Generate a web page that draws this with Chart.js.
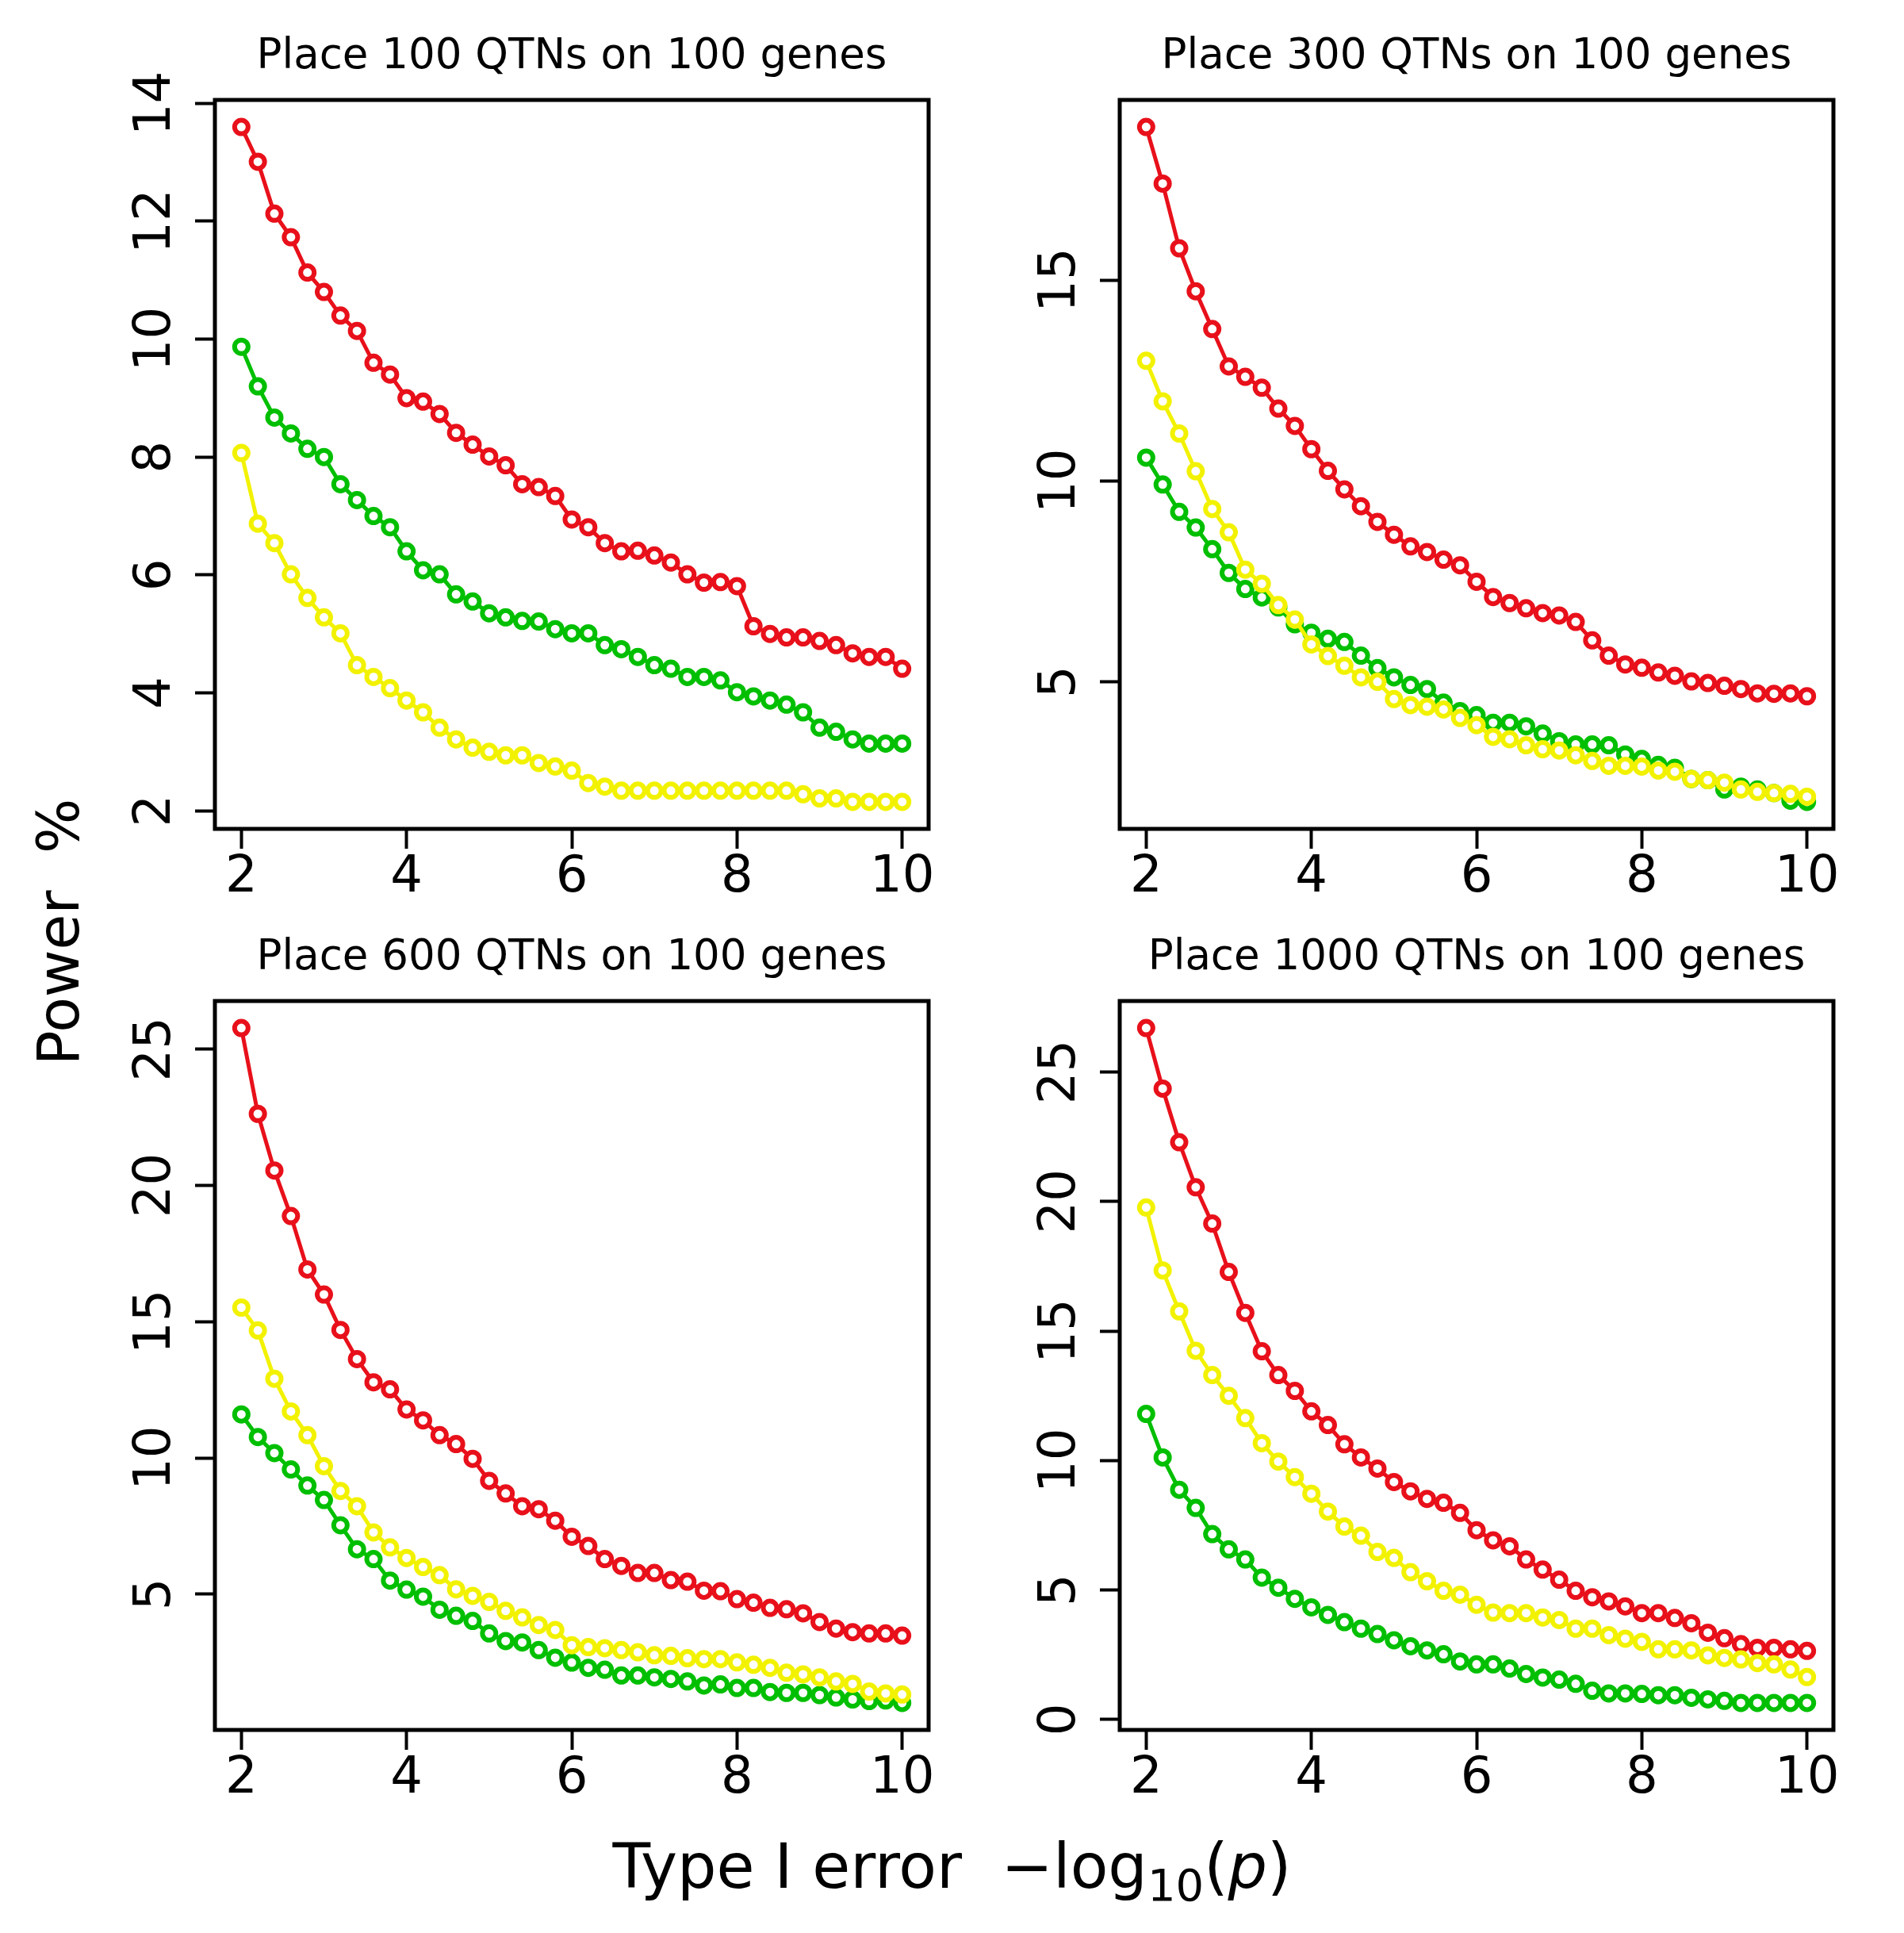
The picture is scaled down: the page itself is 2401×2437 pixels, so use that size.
<!DOCTYPE html>
<html>
<head>
<meta charset="utf-8">
<script src="https://cdn.jsdelivr.net/npm/chart.js@4"></script>
<style>
  html, body { margin: 0; padding: 0; background: #fff; }
  body { width: 2401px; height: 2437px; position: relative; overflow: hidden; font-family: "DejaVu Sans", sans-serif; }
  canvas { position: absolute; }
  #xlab { position: absolute; left: 0; width: 2401px; top: 2314px; text-align: center; font-size: 78px; line-height: 78px; white-space: pre; color: #000; }
  #xlab sub { font-size: 56px; line-height: 0; vertical-align: -16px; }
  #ylab { position: absolute; left: 73px; top: 1175px; font-size: 73px; line-height: 73px; white-space: pre; color: #000;
          transform: translate(-50%, -50%) rotate(-90deg); }
</style>
</head>
<body>
<canvas id="panel1" width="1060" height="1155" style="left:141px;top:0px"></canvas>
<canvas id="panel2" width="1060" height="1155" style="left:1282px;top:0px"></canvas>
<canvas id="panel3" width="1060" height="1155" style="left:141px;top:1136px"></canvas>
<canvas id="panel4" width="1060" height="1155" style="left:1282px;top:1136px"></canvas>
<div id="xlab">Type I error  −log<sub>10</sub>(<i>p</i>)</div>
<div id="ylab">Power  %</div>
<script>
// -log10(p) thresholds
const pvals = [2.0, 2.2, 2.4, 2.6, 2.8, 3.0, 3.2, 3.4, 3.6, 3.8,
  4.0, 4.2, 4.4, 4.6, 4.8, 5.0, 5.2, 5.4, 5.6, 5.8,
  6.0, 6.2, 6.4, 6.6, 6.8, 7.0, 7.2, 7.4, 7.6, 7.8,
  8.0, 8.2, 8.4, 8.6, 8.8, 9.0, 9.2, 9.4, 9.6, 9.8, 10.0];
const xTicks = [2, 4, 6, 8, 10];

// 100 QTNs
const red1 = [13.60, 13.01, 12.13, 11.73, 11.13, 10.80, 10.40, 10.14, 9.60, 9.40,
  9.00, 8.94, 8.73, 8.41, 8.21, 8.01, 7.86, 7.54, 7.49, 7.34,
  6.94, 6.81, 6.54, 6.40, 6.41, 6.33, 6.21, 6.01, 5.87, 5.88,
  5.81, 5.13, 5.00, 4.94, 4.94, 4.88, 4.81, 4.67, 4.61, 4.61, 4.41];
const green1 = [9.87, 9.20, 8.67, 8.40, 8.14, 8.00, 7.54, 7.27, 7.00, 6.81,
  6.40, 6.08, 6.01, 5.67, 5.55, 5.35, 5.28, 5.22, 5.21, 5.08,
  5.01, 5.01, 4.81, 4.74, 4.61, 4.47, 4.41, 4.27, 4.27, 4.21,
  4.01, 3.94, 3.87, 3.80, 3.67, 3.41, 3.34, 3.21, 3.14, 3.14, 3.14];
const yellow1 = [8.07, 6.87, 6.54, 6.01, 5.61, 5.28, 5.01, 4.47, 4.27, 4.08,
  3.87, 3.67, 3.41, 3.21, 3.07, 3.00, 2.94, 2.94, 2.81, 2.75,
  2.68, 2.47, 2.41, 2.34, 2.34, 2.34, 2.34, 2.34, 2.34, 2.34,
  2.34, 2.34, 2.34, 2.34, 2.28, 2.21, 2.21, 2.15, 2.15, 2.15, 2.15];
const yTicks1 = [2, 4, 6, 8, 10, 12, 14];

// 300 QTNs
const red2 = [18.81, 17.40, 15.79, 14.72, 13.78, 12.85, 12.59, 12.32, 11.80, 11.37,
  10.79, 10.25, 9.79, 9.37, 8.98, 8.66, 8.37, 8.23, 8.04, 7.90,
  7.49, 7.11, 6.96, 6.83, 6.71, 6.65, 6.49, 6.03, 5.65, 5.43,
  5.35, 5.23, 5.15, 5.01, 4.97, 4.90, 4.82, 4.71, 4.70, 4.71, 4.64];
const green2 = [10.58, 9.91, 9.23, 8.84, 8.30, 7.71, 7.31, 7.10, 6.85, 6.43,
  6.22, 6.07, 5.99, 5.65, 5.34, 5.11, 4.92, 4.82, 4.48, 4.27,
  4.17, 3.98, 3.98, 3.89, 3.71, 3.52, 3.44, 3.44, 3.42, 3.19,
  3.08, 2.93, 2.86, 2.58, 2.55, 2.32, 2.39, 2.32, 2.23, 2.04, 2.01];
const yellow2 = [12.99, 11.98, 11.18, 10.24, 9.30, 8.72, 7.79, 7.44, 6.91, 6.55,
  5.93, 5.64, 5.40, 5.11, 5.00, 4.57, 4.42, 4.38, 4.31, 4.10,
  3.92, 3.63, 3.57, 3.42, 3.32, 3.29, 3.17, 3.03, 2.91, 2.91,
  2.89, 2.79, 2.76, 2.58, 2.55, 2.49, 2.32, 2.26, 2.23, 2.21, 2.14];
const yTicks2 = [5, 10, 15];

// 600 QTNs
const red3 = [25.78, 22.63, 20.55, 18.88, 16.92, 16.00, 14.70, 13.63, 12.78, 12.52,
  11.78, 11.38, 10.84, 10.51, 9.97, 9.16, 8.70, 8.23, 8.12, 7.70,
  7.11, 6.77, 6.29, 6.04, 5.78, 5.78, 5.52, 5.46, 5.13, 5.11,
  4.82, 4.69, 4.50, 4.45, 4.30, 3.98, 3.74, 3.61, 3.56, 3.56, 3.48];
const green3 = [11.60, 10.77, 10.18, 9.58, 8.99, 8.46, 7.53, 6.65, 6.29, 5.50,
  5.17, 4.91, 4.43, 4.21, 4.02, 3.56, 3.28, 3.23, 2.95, 2.67,
  2.49, 2.30, 2.23, 2.02, 2.02, 1.95, 1.89, 1.80, 1.65, 1.69,
  1.56, 1.56, 1.41, 1.38, 1.38, 1.30, 1.21, 1.14, 1.08, 1.10, 1.01];
const yellow3 = [15.52, 14.68, 12.91, 11.71, 10.84, 9.70, 8.79, 8.23, 7.27, 6.72,
  6.33, 6.00, 5.70, 5.18, 4.94, 4.72, 4.39, 4.15, 3.87, 3.69,
  3.13, 3.06, 3.02, 2.95, 2.87, 2.76, 2.74, 2.65, 2.62, 2.62,
  2.50, 2.41, 2.30, 2.12, 2.06, 1.95, 1.80, 1.71, 1.43, 1.36, 1.32];
const yTicks3 = [5, 10, 15, 20, 25];

// 1000 QTNs
const red4 = [26.70, 24.36, 22.29, 20.55, 19.15, 17.28, 15.70, 14.22, 13.30, 12.69,
  11.90, 11.37, 10.63, 10.12, 9.69, 9.17, 8.81, 8.52, 8.37, 7.98,
  7.31, 6.92, 6.69, 6.18, 5.79, 5.40, 4.97, 4.72, 4.56, 4.37,
  4.11, 4.11, 3.92, 3.72, 3.35, 3.14, 2.91, 2.77, 2.77, 2.71, 2.65];
const green4 = [11.80, 10.12, 8.87, 8.17, 7.16, 6.57, 6.18, 5.48, 5.09, 4.66,
  4.33, 4.04, 3.76, 3.51, 3.30, 3.06, 2.83, 2.67, 2.52, 2.24,
  2.13, 2.13, 1.97, 1.76, 1.62, 1.54, 1.38, 1.11, 1.01, 1.01,
  0.99, 0.94, 0.94, 0.84, 0.78, 0.72, 0.64, 0.64, 0.64, 0.64, 0.64];
const yellow4 = [19.77, 17.34, 15.76, 14.24, 13.30, 12.50, 11.64, 10.67, 9.96, 9.36,
  8.72, 8.03, 7.45, 7.10, 6.47, 6.24, 5.69, 5.34, 4.97, 4.82,
  4.43, 4.13, 4.11, 4.11, 3.94, 3.84, 3.51, 3.51, 3.26, 3.12,
  3.00, 2.71, 2.71, 2.67, 2.48, 2.38, 2.32, 2.18, 2.13, 1.93, 1.64];
const yTicks4 = [0, 5, 10, 15, 20, 25];

const RED = '#e8101a';
const GREEN = '#00bf00';
const YELLOW = '#f2f200';
const FONT = '"DejaVu Sans", sans-serif';

function series(vals, color) {
  return {
    data: vals.map((v, i) => ({ x: pvals[i], y: v })),
    borderColor: color,
    borderWidth: 5,
    pointRadius: 8.5,
    pointBorderWidth: 6,
    pointBorderColor: color,
    pointBackgroundColor: '#fff',
    tension: 0,
    clip: false,
  };
}

function makePanel(id, title, red, green, yellow, yTicks) {
  const all = red.concat(green, yellow);
  const lo = Math.min(...all);
  const hi = Math.max(...all);
  const pad = (hi - lo) * 0.04; // R default axis expansion

  const frame = {
    id: 'frame' + id,
    afterDraw(chart) {
      const { ctx, chartArea } = chart;
      const { left, right, top, bottom } = chartArea;
      ctx.save();
      ctx.strokeStyle = '#000';
      ctx.lineWidth = 5;
      ctx.strokeRect(left, top, right - left, bottom - top);

      ctx.fillStyle = '#000';
      ctx.font = '64px ' + FONT;
      ctx.textAlign = 'center';
      ctx.textBaseline = 'alphabetic';
      const xs = chart.scales.x;
      xTicks.forEach((v) => {
        ctx.fillText(String(v), xs.getPixelForValue(v), bottom + 79);
      });
      const ys = chart.scales.y;
      yTicks.forEach((v) => {
        ctx.save();
        ctx.translate(left - 57, ys.getPixelForValue(v));
        ctx.rotate(-Math.PI / 2);
        ctx.fillText(String(v), 0, 0);
        ctx.restore();
      });

      ctx.font = '53px ' + FONT;
      ctx.fillText(title, (left + right) / 2, top - 40);
      ctx.restore();
    },
  };

  const tickGrid = { drawOnChartArea: false, tickLength: 25, tickWidth: 4, tickColor: '#000' };

  new Chart(document.getElementById(id), {
    type: 'line',
    data: {
      datasets: [series(yellow, YELLOW), series(green, GREEN), series(red, RED)],
    },
    options: {
      responsive: false,
      animation: false,
      devicePixelRatio: 1,
      layout: { padding: { left: 105, top: 126, right: 30, bottom: 85 } },
      plugins: { legend: { display: false }, tooltip: { enabled: false }, title: { display: false } },
      scales: {
        x: {
          type: 'linear',
          min: 1.68,
          max: 10.32,
          afterBuildTicks: (s) => { s.ticks = xTicks.map((v) => ({ value: v })); },
          ticks: { display: false },
          grid: tickGrid,
          border: { display: false },
        },
        y: {
          type: 'linear',
          min: lo - pad,
          max: hi + pad,
          afterBuildTicks: (s) => { s.ticks = yTicks.map((v) => ({ value: v })); },
          ticks: { display: false },
          grid: tickGrid,
          border: { display: false },
        },
      },
    },
    plugins: [frame],
  });
}

makePanel('panel1', 'Place 100 QTNs on 100 genes', red1, green1, yellow1, yTicks1);
makePanel('panel2', 'Place 300 QTNs on 100 genes', red2, green2, yellow2, yTicks2);
makePanel('panel3', 'Place 600 QTNs on 100 genes', red3, green3, yellow3, yTicks3);
makePanel('panel4', 'Place 1000 QTNs on 100 genes', red4, green4, yellow4, yTicks4);
</script>
</body>
</html>
